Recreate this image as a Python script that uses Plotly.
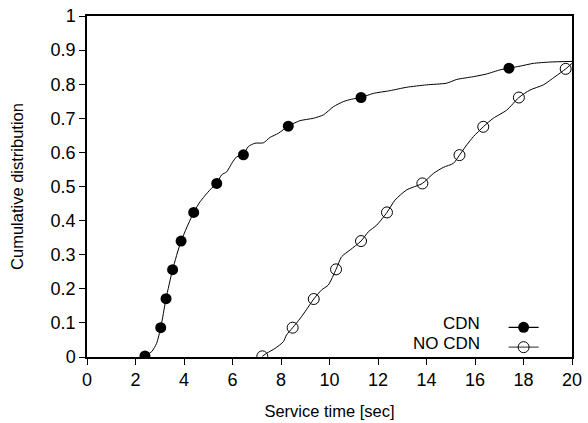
import plotly.graph_objects as go

# CDN curve (service time in sec, cumulative fraction)
cdn_x = [2.39, 2.67, 2.87, 3.04, 3.26, 3.53, 3.88, 4.40, 4.66, 5.07, 5.35, 5.55, 5.76, 5.97, 6.17,
         6.45, 6.65, 6.93, 7.27, 7.55, 7.89, 8.30, 8.78, 9.33, 9.75, 10.16, 10.57, 10.91, 11.30,
         11.81, 12.49, 13.18, 14.00, 14.83, 15.25, 15.93, 16.48, 17.03, 17.40, 17.86, 18.40, 19.09, 20.0]
cdn_y = [0.003, 0.016, 0.040, 0.086, 0.171, 0.256, 0.340, 0.424, 0.455, 0.490, 0.509, 0.534, 0.543,
         0.568, 0.587, 0.593, 0.617, 0.627, 0.628, 0.644, 0.656, 0.677, 0.693, 0.700, 0.710, 0.734,
         0.749, 0.756, 0.761, 0.773, 0.781, 0.791, 0.798, 0.803, 0.814, 0.822, 0.830, 0.842, 0.847,
         0.853, 0.861, 0.865, 0.867]
cdn_mx = [2.39, 3.04, 3.26, 3.53, 3.88, 4.40, 5.35, 6.45, 8.30, 11.30, 17.40]
cdn_my = [0.003, 0.086, 0.171, 0.256, 0.340, 0.424, 0.509, 0.593, 0.677, 0.761, 0.847]

# NO CDN curve
nocdn_x = [7.23, 7.41, 7.75, 8.10, 8.23, 8.48, 8.78, 9.06, 9.35, 9.68, 9.95, 10.27, 10.50, 10.85,
           11.30, 11.60, 11.95, 12.37, 12.70, 13.18, 13.83, 14.28, 14.69, 15.11, 15.36, 15.66,
           15.93, 16.34, 16.75, 17.31, 17.81, 18.27, 18.82, 19.30, 19.74, 20.0]
nocdn_y = [0.002, 0.011, 0.025, 0.045, 0.065, 0.086, 0.112, 0.140, 0.170, 0.197, 0.211, 0.257,
           0.294, 0.314, 0.340, 0.367, 0.387, 0.424, 0.460, 0.490, 0.509, 0.538, 0.556, 0.568,
           0.592, 0.622, 0.646, 0.675, 0.700, 0.724, 0.761, 0.783, 0.798, 0.822, 0.845, 0.861]
nocdn_mx = [7.23, 8.48, 9.35, 10.27, 11.30, 12.37, 13.83, 15.36, 16.34, 17.81, 19.74]
nocdn_my = [0.002, 0.086, 0.170, 0.257, 0.340, 0.424, 0.509, 0.592, 0.675, 0.761, 0.845]

x_ticks = list(range(0, 21, 2))
y_ticks = [0, 0.1, 0.2, 0.3, 0.4, 0.5, 0.6, 0.7, 0.8, 0.9, 1]
y_ticklabels = ["0", "0.1", "0.2", "0.3", "0.4", "0.5", "0.6", "0.7", "0.8", "0.9", "1"]
series_names = ["CDN", "NO CDN"]

FONT = "Liberation Sans, Arial, sans-serif"

fig = go.Figure()
fig.add_trace(go.Scatter(x=cdn_x, y=cdn_y, mode="lines", line=dict(color="black", width=1, shape="spline", smoothing=0.6),
                         showlegend=False, hoverinfo="skip"))
fig.add_trace(go.Scatter(x=cdn_mx, y=cdn_my, mode="markers",
                         marker=dict(symbol="circle", size=11, color="black"), showlegend=False))
fig.add_trace(go.Scatter(x=nocdn_x, y=nocdn_y, mode="lines", line=dict(color="black", width=1, shape="spline", smoothing=0.6),
                         showlegend=False, hoverinfo="skip"))
fig.add_trace(go.Scatter(x=nocdn_mx, y=nocdn_my, mode="markers",
                         marker=dict(symbol="circle-open", size=11, color="black", line=dict(width=1)),
                         showlegend=False))
# legend entries (text drawn as annotations to the left of the symbols)
fig.add_trace(go.Scatter(x=[None], y=[None], mode="lines+markers", name="",
                         line=dict(color="black", width=1.2),
                         marker=dict(symbol="circle", size=11, color="black")))
fig.add_trace(go.Scatter(x=[None], y=[None], mode="lines+markers", name=" ",
                         line=dict(color="#555555", width=1.2),
                         marker=dict(symbol="circle-open", size=11, color="black", line=dict(width=1))))

fig.update_layout(
    width=588, height=423,
    margin=dict(l=87, r=16, t=16, b=66),
    paper_bgcolor="white", plot_bgcolor="white",
    font=dict(family=FONT, size=16, color="black"),
    showlegend=True,
    legend=dict(x=0.859, y=0.131, xanchor="left", yanchor="top", bgcolor="rgba(0,0,0,0)",
                font=dict(size=13), tracegroupgap=0, itemwidth=30),
    annotations=[
        dict(text=series_names[0], x=0.8144, y=0.097, xref="paper", yref="paper",
             xanchor="right", yanchor="middle", showarrow=False, font=dict(size=17)),
        dict(text=series_names[1], x=0.8144, y=0.039, xref="paper", yref="paper",
             xanchor="right", yanchor="middle", showarrow=False, font=dict(size=17)),
    ],
)
fig.update_xaxes(range=[0, 20], tickvals=x_ticks, ticks="outside", ticklen=6, tickwidth=1, tickcolor="black",
                 tickfont=dict(size=18), automargin=False,
                 showline=True, linecolor="black", linewidth=1.5, mirror=True, showgrid=False, zeroline=False,
                 title=dict(text="Service time [sec]", font=dict(size=16.5), standoff=16))
fig.update_yaxes(range=[0, 1], tickvals=y_ticks, ticktext=y_ticklabels, ticks="outside", ticklen=6, tickwidth=1,
                 tickfont=dict(size=18), automargin=False,
                 tickcolor="black", showline=True, linecolor="black", linewidth=1.5, mirror=True, showgrid=False,
                 zeroline=False, title=dict(text="Cumulative distribution", font=dict(size=16.5), standoff=23))

fig.write_html("out.html")
